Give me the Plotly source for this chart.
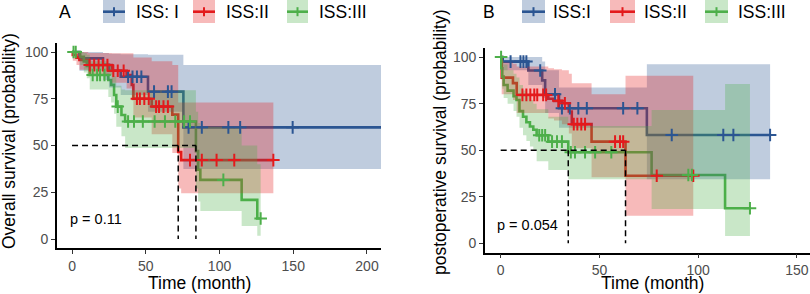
import numpy as np
import plotly.graph_objects as go

# ---------------- Panel A : overall survival ----------------
A_I_t = [0, 5, 21, 25, 33, 51.5, 75.5]
A_I_s = [100, 96.6, 93.2, 90, 86.8, 78.8, 59.7]
A_I_lo = [100, 90, 85, 81, 77, 68, 37.4]
A_I_up = [100, 100, 99.5, 99, 98.8, 98.5, 93]
A_I_end = 215
A_I_cens = [38, 41, 44, 47, 55.6, 65, 67.5, 79, 88, 106, 114, 149.6]

A_II_t = [0, 0.5, 3, 5, 11, 27, 37, 40.5, 41.6, 54, 68, 72, 74]
A_II_s = [100, 98.4, 97, 95.7, 93, 90, 87.7, 82.4, 75, 70.8, 66.5, 46.5, 42.2]
A_II_lo = [100, 95.3, 93, 90.5, 87.5, 83.5, 80.5, 74, 65, 56, 46, 27, 24.4]
A_II_up = [100, 100, 100, 100, 99.5, 99.3, 99.3, 99.3, 97, 95, 93, 73, 73]
A_II_end = 136.5
A_II_cens = [12, 15, 18, 21, 24, 28, 31, 35, 44, 46, 49, 52, 57, 59, 62, 65, 80, 88, 98, 110, 136.5]

A_III_t = [0, 5.5, 8, 10, 12, 24.6, 26.5, 28.5, 30, 33.5, 36, 84, 85.5, 87, 115, 125.6]
A_III_s = [100, 97.5, 95, 92.5, 87.7, 85, 82.4, 77, 70.8, 66.3, 62.8, 47, 37, 31.6, 20.9, 11]
A_III_lo = [100, 93, 89, 86, 80, 76, 73, 67, 60, 55, 48.6, 27, 20, 15, 7, 1.8]
A_III_up = [100, 100, 99.5, 98.5, 95, 93, 91, 87, 82, 80, 79.5, 68, 62, 60, 50, 40]
A_III_end = 127.9
A_III_cens = [1, 2.5, 14, 17, 19, 22, 31, 38, 42, 48, 56, 63, 70, 76, 80, 102.6, 127.9]

# ---------------- Panel B : postoperative survival ----------------
B_I_t = [0, 1, 14, 21, 22.5, 29.5, 74]
B_I_s = [100, 97.6, 92.8, 87.5, 80, 72.5, 58.2]
B_I_lo = [100, 93, 85, 78, 70, 62, 34.4]
B_I_up = [100, 100, 100, 97.6, 93, 83.7, 96.2]
B_I_end = 136.4
B_I_cens = [5, 10, 11.5, 13, 20, 27.5, 31, 35, 39.3, 43.6, 62, 69.2, 86.6, 112.7, 117.8, 136.4]

B_II_t = [0, 0.5, 6.2, 8.1, 24.1, 27, 31, 34.5, 36, 46, 63.2]
B_II_s = [100, 89, 86, 79.7, 77.6, 76.5, 75.2, 70.8, 64, 54.6, 36.3]
B_II_lo = [100, 80, 77, 70, 67, 66, 64, 59, 51, 35.5, 14.8]
B_II_up = [100, 97.5, 96.5, 95, 94, 93.5, 93, 91, 86, 80, 90]
B_II_end = 97.5
B_II_cens = [11, 13, 15, 17, 18.5, 21.5, 23, 29.2, 32.5, 37, 38.8, 40.8, 42.7, 57.9, 60.4, 62, 79, 97.5]

B_III_t = [0, 0.3, 0.8, 1.5, 3.5, 6.5, 8, 9.5, 11.3, 13, 14.8, 16.5, 18.2, 24.1, 34.2, 76.4, 113.6]
B_III_s = [100, 94, 89.5, 85, 82, 79, 77, 71, 68, 65, 62.7, 61, 58, 54.6, 48.9, 36.7, 18.8]
B_III_lo = [100, 88, 83, 78, 75, 71, 68, 62, 58, 55, 52, 50, 44, 39.4, 34.4, 18.4, 3.9]
B_III_up = [100, 100, 98, 96, 93, 91, 89, 85, 82, 79, 77, 75, 72, 68, 63, 71.6, 85.5]
B_III_end = 126.2
B_III_cens = [0.2, 19.5, 21, 22.5, 26, 28.5, 31, 35.5, 37.6, 42.7, 47.8, 56, 95, 96.8, 126.2]

A_labels = ["ISS: I", "ISS:II", "ISS:III"]
B_labels = ["ISS:I", "ISS:II", "ISS:III"]
A_pval = "p = 0.11"
B_pval = "p = 0.054"
A_ytitle = "Overall survival (probability)"
B_ytitle = "postoperative survival (probability)"
xtitle = "Time (month)"
A_xticks = [0, 50, 100, 150, 200]
B_xticks = [0, 50, 100, 150]
yticks = [0, 25, 50, 75, 100]

COLORS = ["#2B5592", "#E31A1C", "#4DAF4A"]
FILLS = ["rgba(43,85,146,0.3)", "rgba(227,26,28,0.3)", "rgba(77,175,74,0.3)"]

W, H = 810, 294


def PX(x):
    return x / W


def PY(y):
    return 1 - y / H


def stepx(t, end):
    return list(t) + [end]


def stepy(v):
    return list(v) + [v[-1]]


def surv_at(t, s, times):
    idx = np.searchsorted(np.array(t), np.array(times), side="right") - 1
    return list(np.array(s)[idx])


def median_time(t, s):
    for ti, si in zip(t, s):
        if si <= 50:
            return ti
    return None


fig = go.Figure()

panels = [
    ("x", "y", [
        (A_I_t, A_I_s, A_I_lo, A_I_up, A_I_end, A_I_cens),
        (A_II_t, A_II_s, A_II_lo, A_II_up, A_II_end, A_II_cens),
        (A_III_t, A_III_s, A_III_lo, A_III_up, A_III_end, A_III_cens)]),
    ("x2", "y2", [
        (B_I_t, B_I_s, B_I_lo, B_I_up, B_I_end, B_I_cens),
        (B_II_t, B_II_s, B_II_lo, B_II_up, B_II_end, B_II_cens),
        (B_III_t, B_III_s, B_III_lo, B_III_up, B_III_end, B_III_cens)]),
]

for xa, ya, groups in panels:
    # step lines first
    for k, (t, s, lo, up, end, cens) in enumerate(groups):
        fig.add_trace(go.Scatter(x=stepx(t, end), y=stepy(s), mode="lines",
                                 line=dict(color=COLORS[k], width=2.6, shape="hv"),
                                 xaxis=xa, yaxis=ya, showlegend=False, hoverinfo="skip"))
    # ribbons on top
    for k, (t, s, lo, up, end, cens) in enumerate(groups):
        fig.add_trace(go.Scatter(x=stepx(t, end), y=stepy(lo), mode="lines",
                                 line=dict(width=0, shape="hv"), xaxis=xa, yaxis=ya,
                                 showlegend=False, hoverinfo="skip"))
        fig.add_trace(go.Scatter(x=stepx(t, end), y=stepy(up), mode="lines",
                                 line=dict(width=0, shape="hv"), fill="tonexty",
                                 fillcolor=FILLS[k], xaxis=xa, yaxis=ya,
                                 showlegend=False, hoverinfo="skip"))
    # censor marks
    for k, (t, s, lo, up, end, cens) in enumerate(groups):
        fig.add_trace(go.Scatter(x=cens, y=surv_at(t, s, cens), mode="markers",
                                 marker=dict(symbol="cross-thin", size=9, color=COLORS[k],
                                             line=dict(color=COLORS[k], width=2)),
                                 xaxis=xa, yaxis=ya, showlegend=False, hoverinfo="skip"))
    # median lines
    meds = [m for m in (median_time(g[0], g[1]) for g in groups) if m is not None]
    if meds:
        hx = [0, max(meds)]
        hy = [50, 50]
        vx, vy = [], []
        for m in meds:
            vx += [m, m, None]
            vy += [50, 0, None]
        fig.add_trace(go.Scatter(x=hx + [None] + vx, y=hy + [None] + vy, mode="lines",
                                 line=dict(color="black", width=1.5, dash="6px,4px"),
                                 xaxis=xa, yaxis=ya, showlegend=False, hoverinfo="skip"))

axis_common = dict(showline=True, linecolor="black", linewidth=1.6, ticks="outside",
                   ticklen=4, tickwidth=1.2, tickcolor="#333333", showgrid=False,
                   zeroline=False, tickfont=dict(family="Liberation Sans, Arial", size=14, color="#4D4D4D"),
                   fixedrange=True)

fig.update_layout(
    width=W, height=H, margin=dict(l=0, r=0, t=0, b=0), autosize=False,
    paper_bgcolor="white", plot_bgcolor="white", showlegend=False,
    font=dict(family="Liberation Sans, Arial", color="black"),
    xaxis=dict(domain=[PX(57), PX(381)], range=[-10.2, 209.5], tickvals=A_xticks,
               anchor="y", **axis_common),
    yaxis=dict(domain=[PY(248.35), PY(42.65)], range=[-5, 105], tickvals=yticks,
               anchor="x", **axis_common),
    xaxis2=dict(domain=[PX(485), 1.0], range=[-7.95, 156.6], tickvals=B_xticks,
                anchor="y2", **axis_common),
    yaxis2=dict(domain=[PY(252.6), PY(47.8)], range=[-5, 105], tickvals=yticks,
                anchor="x2", **axis_common),
)

ann = []
shapes = []
TF = "Liberation Sans, Arial"


def txt(text, x, y, xanchor="center", size=17.5, angle=0, xref="paper", yref="paper"):
    return dict(text=text, x=x, y=y, xref=xref, yref=yref, xanchor=xanchor, yanchor="middle",
                textangle=angle, showarrow=False, font=dict(size=size, family=TF, color="black"))


# axis titles
ann.append(txt(A_ytitle, PX(9), PY(141), angle=-90))
ann.append(txt(B_ytitle, PX(440), PY(142), angle=-90))
ann.append(txt(xtitle, PX(199), PY(283)))
ann.append(txt(xtitle, PX(652), PY(283)))
# p values
ann.append(txt(A_pval, -2.7, 10.7, xanchor="left", size=14.5, xref="x", yref="y"))
ann.append(txt(B_pval, -3.0, 9.8, xanchor="left", size=14.5, xref="x2", yref="y2"))
# panel letters
ann.append(txt("A", PX(57), PY(12), xanchor="left"))
ann.append(txt("B", PX(481), PY(12), xanchor="left"))

# legends
legA = [(103, 125, 134), (193, 215, 224), (287, 308, 317)]
legB = [(522, 545, 551), (610, 635, 642), (705, 728, 736)]
for leg, labels in ((legA, A_labels), (legB, B_labels)):
    for k, ((x0, x1, tx), lab) in enumerate(zip(leg, labels)):
        shapes.append(dict(type="rect", xref="paper", yref="paper", x0=PX(x0), x1=PX(x1),
                           y0=PY(23), y1=PY(0), fillcolor=FILLS[k], line=dict(width=0)))
        shapes.append(dict(type="line", xref="paper", yref="paper", x0=PX(x0), x1=PX(x1),
                           y0=PY(11.7), y1=PY(11.7), line=dict(color=COLORS[k], width=2.6)))
        xc = (x0 + x1) / 2
        shapes.append(dict(type="line", xref="paper", yref="paper", x0=PX(xc), x1=PX(xc),
                           y0=PY(7.2), y1=PY(16.2), line=dict(color=COLORS[k], width=2)))
        ann.append(txt(lab, PX(tx), PY(12), xanchor="left"))

fig.update_layout(annotations=ann, shapes=shapes)
fig.write_html("out.html", config={"displayModeBar": False},
               post_script="document.body.style.margin='0';document.body.style.overflow='hidden';")
